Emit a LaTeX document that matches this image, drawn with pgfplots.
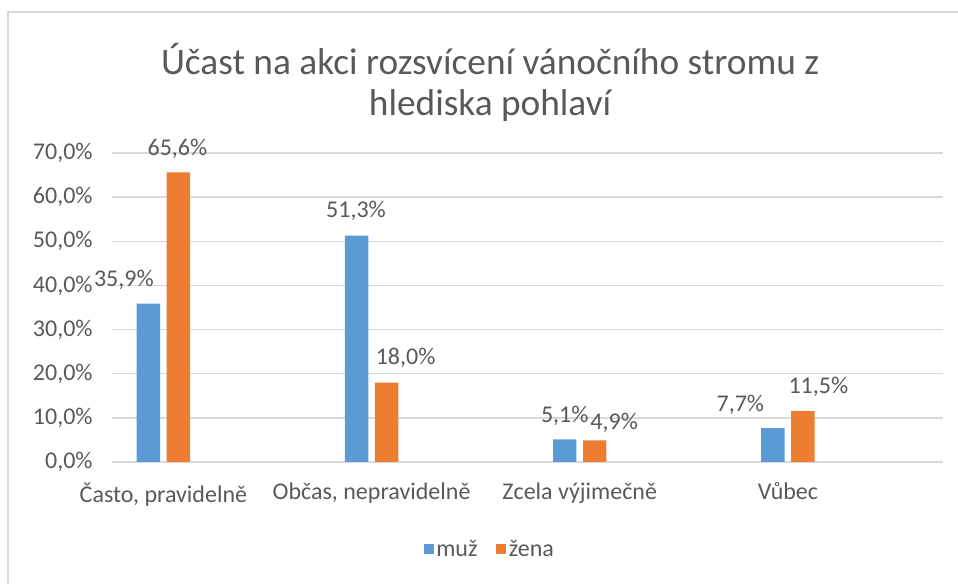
\documentclass[border=0pt]{standalone}
\usepackage{pgfplots}
\pgfplotsset{compat=1.18}
\usepackage{pgfplotstable}
\usepackage{fontspec}
\setmainfont{Carlito}
\definecolor{cblue}{HTML}{5B9BD5}
\definecolor{corange}{HTML}{ED7D31}
\definecolor{cgrid}{HTML}{D9D9D9}
\definecolor{ctext}{HTML}{595959}

\pgfplotstableread{
x y dx dy
0 35.9 -18.4 12.75
1 51.3 -0.4 13.5
2 5.1 0 12.75
3 7.7 -24.4 12.75
}\muz
\pgfplotstableread{
x y dx dy
0 65.6 -0.75 12.75
1 18.0 14.25 13.5
2 4.9 14.6 7.9
3 11.5 11.6 13.5
}\zena

\pgfplotsset{
  labstyle/.style={
    nodes near coords={\pgfmathprintnumber[fixed,fixed zerofill,precision=1,use comma]{\pgfplotspointmeta}\%},
    visualization depends on={\thisrow{dx} \as \dx},
    visualization depends on={\thisrow{dy} \as \dy},
    every node near coord/.append style={font=\fontsize{18}{21}\selectfont, text=ctext, anchor=base, inner sep=0pt, xshift=\dx pt, yshift=\dy pt},
  }
}

\begin{document}
\begin{tikzpicture}
\path[use as bounding box] (-84pt,-91.5pt) rectangle (634.5pt,346.5pt);
\draw[cgrid, line width=1pt] (-78pt,-92pt) -- (-78pt,337.5pt) -- (635pt,337.5pt);
\begin{axis}[
  at={(0,0)}, anchor=south west,
  scale only axis,
  width=623.25pt, height=231.75pt,
  ybar, bar width=17.6pt,
  xmin=-0.247, xmax=3.745,
  ymin=0, ymax=70,
  ytick={0,10,...,70},
  xtick={0,1,2,3},
  xticklabels={{Často, pravidelně},{Občas, nepravidelně},{Zcela výjimečně},{Vůbec}},
  axis line style={draw=none},
  ymajorgrids,
  grid style={cgrid, line width=1pt},
  major tick length=0pt,
  /pgf/number format/assume math mode=true,
  yticklabel={\pgfmathprintnumber[fixed,fixed zerofill,precision=1,use comma]{\tick}\%},
  ticklabel style={font=\fontsize{18}{21}\selectfont, text=ctext},
  yticklabel style={xshift=-11pt},
  xticklabel style={yshift=-12pt},
  legend style={at={(0.455,-0.282)}, anchor=center, draw=none, fill=none,
    legend columns=2, font=\fontsize{18}{21}\selectfont, text=ctext,
    /tikz/every even column/.append style={column sep=12pt}},
  legend image code/.code={\fill[#1] (0pt,-3.75pt) rectangle (7.5pt,3.75pt);},
  clip=false,
]
\addplot[fill=cblue, draw=none, bar shift=-11.25pt, labstyle] table[x=x,y=y] {\muz};
\addplot[fill=corange, draw=none, bar shift=11.25pt, labstyle] table[x=x,y=y] {\zena};
\legend{muž, žena}
\node[align=center, text=ctext, font=\fontsize{28}{30.75}\selectfont] at (rel axis cs:0.455,1.23) {Účast na akci rozsvícení vánočního stromu z\\hlediska pohlaví};
\end{axis}
\end{tikzpicture}
\end{document}
